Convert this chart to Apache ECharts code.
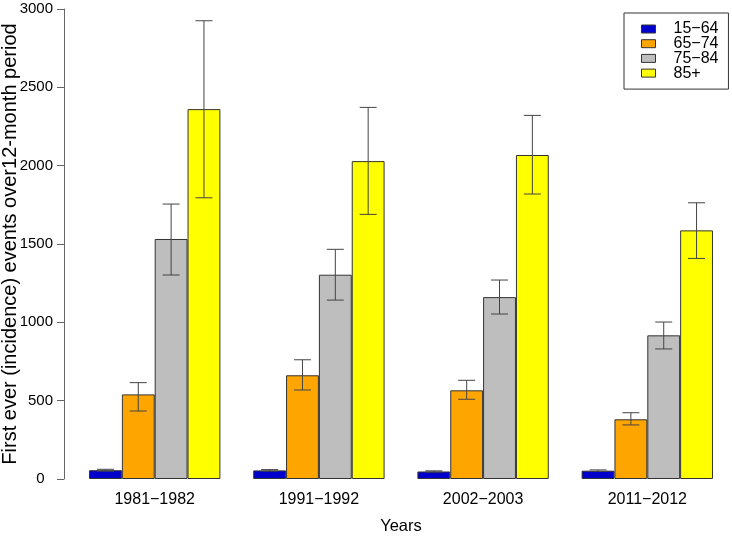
<!DOCTYPE html>
<html>
<head>
<meta charset="utf-8">
<script src="https://cdn.jsdelivr.net/npm/echarts@6/dist/echarts.min.js"></script>
<style>html,body{margin:0;padding:0;background:#fff;}#chart{width:732px;height:538px;}</style>
</head>
<body>
<div id="chart"></div>
<script>
const categories = ['1981\u22121982', '1991\u22121992', '2002\u22122003', '2011\u22122012'];
const ageGroups = ['15\u221264', '65\u221274', '75\u221284', '85+'];
const colors = ['#0000CD', '#FFA500', '#BEBEBE', '#FFFF00'];
const yTicks = [0, 500, 1000, 1500, 2000, 2500, 3000];

const val15_64 = [56, 55, 48, 53];
const val65_74 = [540, 662, 566, 381];
const val75_84 = [1532, 1304, 1161, 917];
const val85 = [2361, 2029, 2068, 1587];

const lo15_64 = [50, 50, 44, 48];
const hi15_64 = [62, 60, 52, 58];
const lo65_74 = [434, 568, 509, 345];
const hi65_74 = [615, 761, 630, 423];
const lo75_84 = [1302, 1142, 1053, 830];
const hi75_84 = [1755, 1466, 1270, 1002];
const lo85 = [1795, 1689, 1819, 1408];
const hi85 = [2925, 2372, 2321, 1763];

const values = [val15_64, val65_74, val75_84, val85];
const lows = [lo15_64, lo65_74, lo75_84, lo85];
const highs = [hi15_64, hi65_74, hi75_84, hi85];

const FONT = 'Liberation Sans, Arial, sans-serif';
const chart = echarts.init(document.getElementById('chart'), null, {renderer: 'canvas'});

const series = [];
ageGroups.forEach((g, i) => {
  series.push({
    name: g,
    type: 'bar',
    data: values[i],
    barGap: '0%',
    barCategoryGap: '20%',
    itemStyle: {color: colors[i], borderColor: '#333', borderWidth: 1},
    emphasis: {disabled: true},
    animation: false
  });
});
ageGroups.forEach((g, i) => {
  series.push({
    type: 'custom',
    data: categories.map((c, k) => [k, lows[i][k], highs[i][k]]),
    encode: {x: 0, y: [1, 2]},
    z: 5,
    animation: false,
    silent: true,
    renderItem: function (params, api) {
      const k = api.value(0);
      const bandW = api.size([1, 0])[0];
      const barW = bandW * 0.8 / 4;
      const pLo = api.coord([k, api.value(1)]);
      const pHi = api.coord([k, api.value(2)]);
      const x = pLo[0] + (i - 1.5) * barW;
      const cap = 8.5;
      const st = {stroke: '#444', lineWidth: 1};
      return {
        type: 'group',
        children: [
          {type: 'line', shape: {x1: x, y1: pLo[1], x2: x, y2: pHi[1]}, style: st},
          {type: 'line', shape: {x1: x - cap, y1: pLo[1], x2: x + cap, y2: pLo[1]}, style: st},
          {type: 'line', shape: {x1: x - cap, y1: pHi[1], x2: x + cap, y2: pHi[1]}, style: st}
        ]
      };
    }
  });
});

chart.setOption({
  animation: false,
  backgroundColor: '#fff',
  textStyle: {fontFamily: FONT},
  grid: {left: 72.6, right: 2.6, top: 9, bottom: 59, containLabel: false, outerBoundsMode: 'none'},
  legend: {
    data: ageGroups,
    orient: 'vertical',
    left: 624,
    top: 13,
    icon: 'rect',
    itemWidth: 14,
    itemHeight: 8,
    itemGap: -1.3,
    padding: [8, 10, 8, 17],
    borderColor: '#333',
    borderWidth: 1,
    backgroundColor: '#fff',
    selectedMode: false,
    textStyle: {fontSize: 16, color: '#000', fontFamily: FONT, padding: [0, 0, 0, 13]},
    itemStyle: {borderColor: '#333', borderWidth: 1}
  },
  xAxis: {
    type: 'category',
    data: categories,
    name: 'Years',
    nameLocation: 'middle',
    nameGap: 39,
    nameMoveOverlap: false,
    nameTextStyle: {fontSize: 16.5, color: '#000', fontFamily: FONT},
    axisLine: {show: false},
    axisTick: {show: false},
    axisLabel: {fontSize: 16, color: '#000', margin: 13, fontFamily: FONT}
  },
  yAxis: {
    type: 'value',
    min: 0,
    max: 3000,
    interval: 500,
    offset: 8.6,
    name: 'First ever (incidence) events over12-month period',
    nameLocation: 'middle',
    nameGap: 44,
    nameMoveOverlap: false,
    nameTextStyle: {fontSize: 20, color: '#000', fontFamily: FONT},
    splitLine: {show: false},
    axisLine: {show: true, lineStyle: {color: '#666', width: 1}},
    axisTick: {show: true, length: 7, lineStyle: {color: '#666'}},
    axisLabel: {
      fontSize: 15, color: '#000', margin: 11, fontFamily: FONT,
      formatter: v => (v === 0 ? '0  ' : String(v))
    }
  },
  series: series
});
</script>
</body>
</html>
